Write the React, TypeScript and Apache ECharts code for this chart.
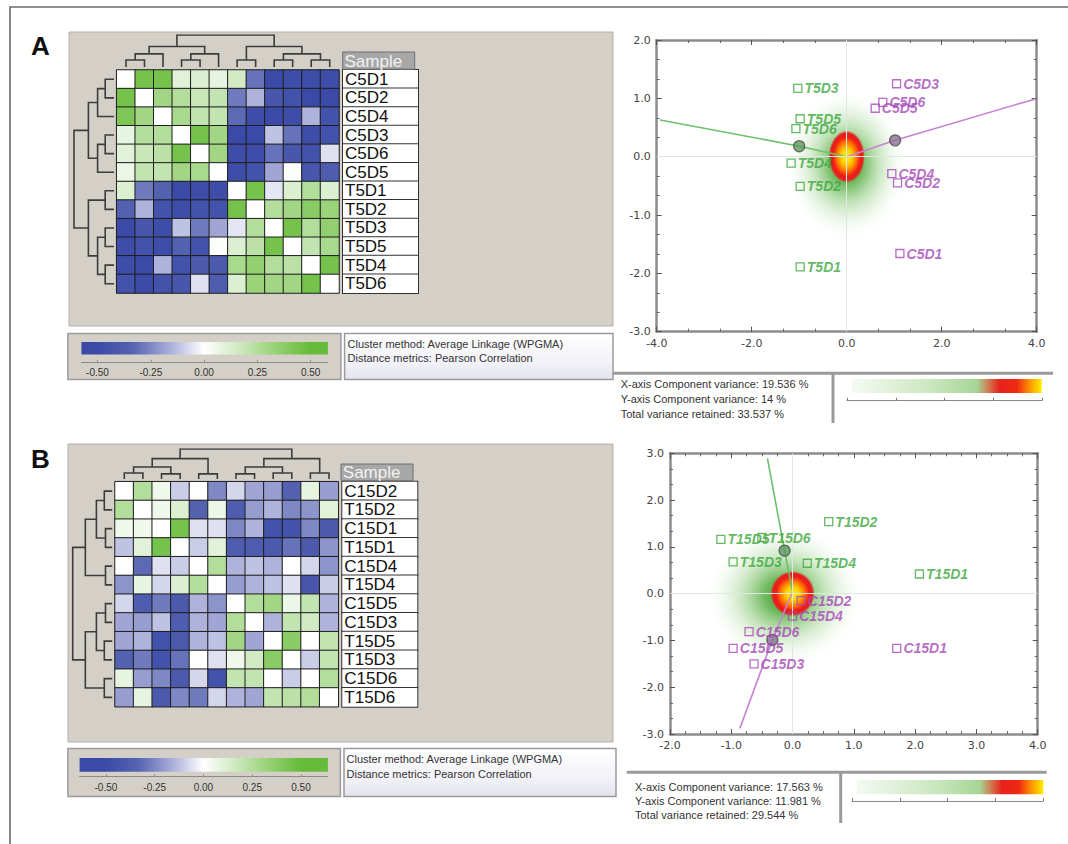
import React, { useEffect, useRef } from 'react';
import * as echarts from 'echarts';

const FONT = '"Liberation Sans", Arial, Helvetica, sans-serif';
const NUMFONT = '"DejaVu Sans", Verdana, sans-serif';

// ---------------- Heatmap data ----------------
const samplesA = ['C5D1', 'C5D2', 'C5D4', 'C5D3', 'C5D6', 'C5D5', 'T5D1', 'T5D2', 'T5D3', 'T5D5', 'T5D4', 'T5D6'];
const corrA = [
  [0, 0.45, 0.45, 0.1, 0.12, 0.08, 0.15, -0.3, -0.5, -0.48, -0.48, -0.48],
  [0.45, 0, 0.3, 0.25, 0.18, 0.2, -0.28, -0.15, -0.42, -0.45, -0.5, -0.5],
  [0.42, 0.3, 0, 0.28, 0.2, 0.2, -0.32, -0.48, -0.5, -0.48, -0.15, -0.45],
  [0.08, 0.25, 0.25, 0, 0.45, 0.3, -0.5, -0.5, -0.12, -0.3, -0.48, -0.45],
  [0.1, 0.18, 0.22, 0.45, 0, 0.3, -0.48, -0.48, -0.3, -0.42, -0.45, -0.06],
  [0.06, 0.2, 0.2, 0.3, 0.28, 0, -0.48, -0.45, -0.18, 0.01, -0.42, -0.38],
  [0.12, -0.28, -0.35, -0.5, -0.48, -0.48, 0, 0.45, -0.05, 0.12, 0.25, 0.12],
  [-0.35, -0.15, -0.45, -0.48, -0.45, -0.45, 0.45, 0, 0.25, 0.3, 0.38, 0.32],
  [-0.5, -0.42, -0.48, -0.12, -0.28, -0.18, -0.05, 0.25, 0, 0.45, 0.25, 0.35],
  [-0.48, -0.45, -0.48, -0.35, -0.45, 0.01, 0.12, 0.22, 0.45, 0, 0.2, 0.28],
  [-0.48, -0.5, -0.15, -0.45, -0.4, -0.4, 0.28, 0.35, 0.25, 0.22, 0, 0.45],
  [-0.45, -0.5, -0.45, -0.42, -0.06, -0.38, 0.12, 0.32, 0.3, 0.3, 0.45, 0],
];
const samplesB = ['C15D2', 'T15D2', 'C15D1', 'T15D1', 'C15D4', 'T15D4', 'C15D5', 'C15D3', 'T15D5', 'T15D3', 'C15D6', 'T15D6'];
const corrB = [
  [0, 0.25, 0.05, -0.1, 0, -0.25, -0.08, -0.18, -0.2, -0.35, 0.08, -0.2],
  [0.25, 0, 0.05, 0.12, -0.35, 0.06, -0.38, -0.2, -0.15, -0.25, -0.22, 0.1],
  [0.05, 0.05, 0, 0.45, -0.06, -0.06, -0.25, -0.15, -0.45, -0.45, -0.25, -0.4],
  [-0.12, 0.1, 0.45, 0, -0.1, 0.1, -0.38, -0.38, -0.4, -0.3, -0.4, -0.22],
  [0, -0.32, -0.06, -0.1, 0, 0.25, -0.15, -0.12, -0.15, 0, -0.08, -0.22],
  [-0.22, 0.08, -0.08, 0.12, 0.25, 0, -0.2, -0.15, -0.12, -0.06, -0.42, -0.1],
  [-0.08, -0.38, -0.28, -0.4, -0.15, -0.22, 0, 0.25, 0.3, 0.06, 0.2, -0.15],
  [-0.18, -0.2, -0.12, -0.38, -0.15, -0.18, 0.25, 0, -0.15, 0.2, 0.15, -0.15],
  [-0.18, -0.15, -0.45, -0.4, -0.15, -0.12, 0.3, -0.18, 0, 0.38, 0, 0.2],
  [-0.35, -0.28, -0.45, -0.3, 0, -0.06, 0.05, 0.15, 0.38, 0, -0.1, 0.2],
  [0.08, -0.2, -0.25, -0.4, -0.08, -0.45, 0.2, 0.2, 0, -0.1, 0, 0.25],
  [-0.2, 0.08, -0.4, -0.25, -0.28, -0.08, -0.15, -0.18, 0.2, 0.22, 0.25, 0],
];

// dendrogram merges: [nodeA, nodeB, height]; leaves 0..11, new nodes 12..
const treeA = [[0, 1, 0.22], [12, 2, 0.41], [3, 4, 0.22], [14, 5, 0.41], [13, 15, 0.64], [6, 7, 0.22], [8, 9, 0.22], [10, 11, 0.22], [18, 19, 0.41], [17, 20, 0.64], [16, 21, 1]];
const treeB = [[0, 1, 0.2], [2, 3, 0.17], [12, 13, 0.4], [4, 5, 0.17], [14, 15, 0.68], [6, 7, 0.17], [8, 9, 0.2], [17, 18, 0.4], [10, 11, 0.2], [19, 20, 0.68], [16, 21, 1]];

const corrTicks = [-0.5, -0.25, 0, 0.25, 0.5];
const heatColorValues = [-0.5, -1 / 3, -1 / 6, 0, 1 / 6, 1 / 3, 0.5];
const heatColors = ['#3b4aa6', '#5664b2', '#a6abd8', '#ffffff', '#cde9bf', '#97d175', '#66bb3a'];

// ---------------- PCA data ----------------
const pcaA_T: [string, number, number][] = [['T5D3', -1.03, 1.17], ['T5D5', -0.98, 0.65], ['T5D6', -1.07, 0.48], ['T5D4', -1.17, -0.11], ['T5D2', -0.98, -0.51], ['T5D1', -0.98, -1.89]];
const pcaA_C: [string, number, number][] = [['C5D3', 1.05, 1.25], ['C5D6', 0.76, 0.93], ['C5D5', 0.6, 0.83], ['C5D4', 0.95, -0.29], ['C5D2', 1.07, -0.45], ['C5D1', 1.12, -1.66]];
const loadA_T = [[-3.93, 0.63], [-1.0, 0.18], [0, 0]];
const loadA_C = [[0, 0], [1.02, 0.28], [3.97, 0.99]];
const centroidA_T = [-1.0, 0.18];
const centroidA_C = [1.02, 0.28];
const densityA = [[0, 0]];

const pcaB_T: [string, number, number][] = [['T15D2', 0.59, 1.54], ['T15D5', -1.17, 1.16], ['T15D6', -0.5, 1.2], ['T15D3', -0.97, 0.68], ['T15D4', 0.24, 0.65], ['T15D1', 2.07, 0.42]];
const pcaB_C: [string, number, number][] = [['C15D2', 0.14, -0.15], ['C15D4', 0.0, -0.48], ['C15D6', -0.71, -0.81], ['C15D5', -0.97, -1.17], ['C15D3', -0.63, -1.5], ['C15D1', 1.7, -1.17]];
const loadB_T = [[-0.41, 2.89], [-0.13, 0.92], [0, 0.04]];
const loadB_C = [[0, 0.04], [-0.33, -0.99], [-0.86, -2.88]];
const centroidB_T = [-0.13, 0.92];
const centroidB_C = [-0.33, -0.99];
const densityB = [[0, 0]];

const varianceA = [19.536, 14, 33.537];
const varianceB = [17.563, 11.981, 29.544];

const GREEN = '#3da63d';
const PURPLE = '#a548b8';

function dendroSegments(merges: number[][], n: number, vertical: boolean) {
  const pos: number[] = [];
  const h: number[] = [];
  for (let i = 0; i < n; i++) { pos.push(i + 0.5); h.push(0); }
  const out: any[] = [];
  merges.forEach(([a, b, hh]) => {
    const pts = [[pos[a], h[a]], [pos[a], hh], [pos[b], hh], [pos[b], h[b]]];
    out.push({ coords: vertical ? pts : pts.map(([p, q]) => [q, p]) });
    pos.push((pos[a] + pos[b]) / 2);
    h.push(hh);
  });
  return out;
}

function heatData(m: number[][]) {
  const d: number[][] = [];
  m.forEach((row, r) => row.forEach((v, c) => d.push([c, r, v])));
  return d;
}

function barGradient(min: number, max: number) {
  const stops = heatColorValues.map((v, i) => ({ offset: (v - min) / (max - min), color: heatColors[i] }));
  return new echarts.graphic.LinearGradient(0, 0, 1, 0, [
    { offset: 0, color: heatColors[0] }, ...stops, { offset: 1, color: heatColors[heatColors.length - 1] },
  ]);
}

function densityGradient() {
  return new echarts.graphic.LinearGradient(0, 0, 1, 0, [
    { offset: 0, color: '#f4faf2' },
    { offset: 0.4, color: '#cde8c2' },
    { offset: 0.66, color: '#a6d596' },
    { offset: 0.72, color: '#d07a50' },
    { offset: 0.78, color: '#e8201c' },
    { offset: 0.87, color: '#ee2a12' },
    { offset: 0.94, color: '#ff9a00' },
    { offset: 1, color: '#ffee00' },
  ]);
}

function blobRender(hx: number, hy: number, hdx: number, hdy: number, rx: number, ry: number) {
  return (params: any, api: any) => {
    const c = api.coord([api.value(0), api.value(1)]);
    return {
      type: 'group',
      children: [
        {
          type: 'circle', x: c[0] + hdx, y: c[1] + hdy, scaleY: hy / hx,
          shape: { cx: 0, cy: 0, r: hx },
          style: {
            fill: new echarts.graphic.RadialGradient(0.5, 0.5, 0.5, [
              { offset: 0, color: 'rgba(55,155,35,0.95)' },
              { offset: 0.25, color: 'rgba(75,168,55,0.8)' },
              { offset: 0.5, color: 'rgba(120,192,100,0.45)' },
              { offset: 0.75, color: 'rgba(170,215,155,0.18)' },
              { offset: 1, color: 'rgba(255,255,255,0)' },
            ]),
          },
        },
        {
          type: 'circle', x: c[0], y: c[1], scaleY: ry / rx,
          shape: { cx: 0, cy: 0, r: rx },
          style: {
            fill: new echarts.graphic.RadialGradient(0.5, 0.5, 0.5, [
              { offset: 0, color: '#fff41e' },
              { offset: 0.3, color: '#ffd000' },
              { offset: 0.58, color: '#ff6a00' },
              { offset: 0.76, color: '#ee1c1c' },
              { offset: 0.9, color: '#e62020' },
              { offset: 1, color: 'rgba(225,50,30,0.15)' },
            ]),
          },
        },
      ],
    };
  };
}

const scatterAxis = (gridIndex: number, min: number, max: number, interval: number, split: number, position: string, showLabel: boolean) => ({
  gridIndex, type: 'value', min, max, interval, position,
  axisLine: { show: true, onZero: false, lineStyle: { color: '#8c8c8c', width: 2.5 } },
  axisTick: { show: true, inside: true, length: 5, lineStyle: { color: '#555', width: 1 } },
  minorTick: { show: true, splitNumber: split, length: 3, lineStyle: { color: '#666', width: 1 } },
  axisLabel: { show: showLabel, fontSize: 11, color: '#444', fontFamily: NUMFONT, margin: 6, formatter: (v: number) => v.toFixed(1) },
  splitLine: { show: false },
  minorSplitLine: { show: false },
});

const hiddenValue = (gridIndex: number, min: number, max: number, inverse = false) => ({
  gridIndex, type: 'value', min, max, inverse, show: false, splitLine: { show: false },
});

const heatLabelAxis = (gridIndex: number, data: string[]) => ({
  gridIndex, type: 'category', data, inverse: true, position: 'right',
  axisLine: { show: false }, axisTick: { show: false }, splitLine: { show: false },
  axisLabel: {
    interval: 0, margin: 4, align: 'left', fontSize: 17, color: '#111', fontFamily: FONT,
    backgroundColor: '#fff', borderColor: '#333', borderWidth: 1,
    width: 73, height: 17.6, lineHeight: 18, padding: [1, 0, 0, 2], overflow: 'truncate',
  },
});

const smallAxis = (gridIndex: number, min: number, max: number, labels: boolean) => ({
  gridIndex, type: 'value', min, max,
  axisLine: { show: true, onZero: false, lineStyle: { color: '#8a8a8a', width: 1 } },
  axisTick: labels
    ? { show: true, inside: true, length: 2, customValues: corrTicks, lineStyle: { color: '#8a8a8a' } }
    : { show: true, inside: true, length: 3, interval: 0, lineStyle: { color: '#777' } },
  axisLabel: labels
    ? { show: true, customValues: corrTicks, formatter: (v: number) => v.toFixed(2), fontSize: 10, color: '#333', fontFamily: FONT, margin: 6 }
    : { show: false },
  interval: labels ? undefined : 1,
  splitLine: { show: false },
});

const ptsSeries = (data: [string, number, number][], color: string, xi: number) => ({
  type: 'scatter', xAxisIndex: xi, yAxisIndex: xi, z: 6,
  symbol: 'rect', symbolSize: 8,
  itemStyle: { color: 'rgba(255,255,255,0)', borderColor: color, borderWidth: 1.3 },
  label: { show: true, position: 'right', distance: 2, formatter: '{b}', color, fontSize: 14, fontWeight: 'bold', fontStyle: 'italic', fontFamily: FONT },
  data: data.map(([name, x, y]) => ({ name, value: [x, y] })),
});

const loadSeries = (data: number[][], color: string, xi: number) => ({
  type: 'line', xAxisIndex: xi, yAxisIndex: xi, z: 4, showSymbol: false, symbol: 'none',
  lineStyle: { color, width: 1.6 }, data,
});

const centroidSeries = (data: number[][], colors: string[], xi: number) => ({
  type: 'scatter', xAxisIndex: xi, yAxisIndex: xi, z: 5, symbol: 'circle', symbolSize: 11,
  data: data.map((v, i) => ({ value: v, itemStyle: { color: colors[i], borderColor: '#505050', borderWidth: 1.3 } })),
});

const zeroLines = (xi: number) => ({
  type: 'line', xAxisIndex: xi, yAxisIndex: xi, z: 1, data: [], silent: true,
  markLine: {
    silent: true, symbol: ['none', 'none'], label: { show: false },
    lineStyle: { color: '#dfe8df', type: 'solid', width: 1 },
    data: [{ xAxis: 0 }, { yAxis: 0 }],
  },
});

const txt = (text: string, x: number, y: number, size: number, extra: any = {}, z = 5) => ({
  type: 'text', x, y, silent: true, z,
  style: { text, fontSize: size, fontFamily: FONT, fill: '#333', verticalAlign: 'middle', align: 'left', ...extra },
});

const rect = (x: number, y: number, w: number, h: number, style: any, z = 0) => ({
  type: 'rect', shape: { x, y, width: w, height: h }, style, silent: true, z,
});

const line = (x1: number, y1: number, x2: number, y2: number, stroke: string, lineWidth: number) => ({
  type: 'line', shape: { x1, y1, x2, y2 }, style: { stroke, lineWidth }, silent: true, z: 2,
});

const lavender = () => new echarts.graphic.LinearGradient(0, 0, 0, 1, [
  { offset: 0, color: '#ffffff' }, { offset: 0.6, color: '#f2f2f8' }, { offset: 1, color: '#e4e4f0' },
]);

export default function App() {
  const ref = useRef<HTMLDivElement>(null);
  useEffect(() => {
    if (!ref.current) return;
    const chart = echarts.init(ref.current, null, { renderer: 'svg' });
    const cbA = [-0.5755, 0.5807];
    const cbB = [-0.635, 0.638];

    const grids = [
      { left: 116.7, top: 70, width: 222.3, height: 223 },     // 0 heat A
      { left: 115, top: 481.7, width: 223.3, height: 225 },    // 1 heat B
      { left: 116.7, top: 35, width: 222.3, height: 32 },      // 2 dendro A top
      { left: 74, top: 70, width: 40, height: 223 },           // 3 dendro A left
      { left: 115, top: 449, width: 223.3, height: 30 },       // 4 dendro B top
      { left: 72.7, top: 481.7, width: 39.5, height: 225 },    // 5 dendro B left
      { left: 656.7, top: 40, width: 380, height: 291.7 },     // 6 scatter A
      { left: 670, top: 453.3, width: 367.7, height: 280.7 },  // 7 scatter B
      { left: 81.4, top: 342, width: 246.5, height: 19.8 },    // 8 colorbar A
      { left: 79.6, top: 757.9, width: 248.3, height: 18.5 },  // 9 colorbar B
      { left: 847, top: 379, width: 195, height: 21.7 },       // 10 density A
      { left: 852, top: 780, width: 191, height: 21 },         // 11 density B
    ].map((g) => ({ ...g, containLabel: false, outerBoundsMode: 'none' }));

    const option: any = {
      animation: false,
      backgroundColor: '#ffffff',
      grid: grids,
      visualMap: [{
        type: 'continuous', show: false, min: -0.5, max: 0.5, dimension: 2, seriesIndex: [0, 1],
        inRange: { color: heatColors },
      }],
      xAxis: [
        { gridIndex: 0, type: 'category', data: samplesA, show: false },
        { gridIndex: 1, type: 'category', data: samplesB, show: false },
        hiddenValue(2, 0, 12),
        hiddenValue(3, 0, 1, true),
        hiddenValue(4, 0, 12),
        hiddenValue(5, 0, 1, true),
        scatterAxis(6, -4, 4, 2, 3, 'bottom', true),
        scatterAxis(6, -4, 4, 2, 3, 'top', false),
        scatterAxis(7, -2, 4, 1, 4, 'bottom', true),
        scatterAxis(7, -2, 4, 1, 4, 'top', false),
        smallAxis(8, cbA[0], cbA[1], true),
        smallAxis(9, cbB[0], cbB[1], true),
        smallAxis(10, 0, 4, false),
        smallAxis(11, 0, 4, false),
      ],
      yAxis: [
        heatLabelAxis(0, samplesA),
        heatLabelAxis(1, samplesB),
        hiddenValue(2, 0, 1),
        hiddenValue(3, 0, 12, true),
        hiddenValue(4, 0, 1),
        hiddenValue(5, 0, 12, true),
        scatterAxis(6, -3, 2, 1, 3, 'left', true),
        scatterAxis(6, -3, 2, 1, 3, 'right', false),
        scatterAxis(7, -3, 3, 1, 3, 'left', true),
        scatterAxis(7, -3, 3, 1, 3, 'right', false),
        hiddenValue(8, 0, 1),
        hiddenValue(9, 0, 1),
        hiddenValue(10, 0, 1),
        hiddenValue(11, 0, 1),
      ],
      series: [
        {
          type: 'heatmap', xAxisIndex: 0, yAxisIndex: 0, data: heatData(corrA),
          itemStyle: { borderColor: '#1e1e1e', borderWidth: 1 },
        },
        {
          type: 'heatmap', xAxisIndex: 1, yAxisIndex: 1, data: heatData(corrB),
          itemStyle: { borderColor: '#1e1e1e', borderWidth: 1 },
        },
        ...[[2, treeA, true], [3, treeA, false], [4, treeB, true], [5, treeB, false]].map(([gi, tree, vert]: any) => ({
          type: 'lines', coordinateSystem: 'cartesian2d', xAxisIndex: gi, yAxisIndex: gi,
          polyline: true, silent: true, data: dendroSegments(tree, 12, vert),
          lineStyle: { color: '#3c3c3c', width: 1.6, opacity: 1 },
        })),
        // scatter A
        zeroLines(6),
        { type: 'custom', xAxisIndex: 6, yAxisIndex: 6, z: 2, silent: true, data: densityA, renderItem: blobRender(62, 76, 0, 8, 18, 26) },
        loadSeries(loadA_T, '#6cbf6c', 6),
        loadSeries(loadA_C, '#c683d2', 6),
        centroidSeries([centroidA_T, centroidA_C], ['#5c9a5c', '#8c7096'], 6),
        ptsSeries(pcaA_T, GREEN, 6),
        ptsSeries(pcaA_C, PURPLE, 6),
        // scatter B
        zeroLines(8),
        { type: 'custom', xAxisIndex: 8, yAxisIndex: 8, z: 2, silent: true, data: densityB, renderItem: blobRender(80, 72, -8, 2, 22, 22.5) },
        loadSeries(loadB_T, '#6cbf6c', 8),
        loadSeries(loadB_C, '#c683d2', 8),
        centroidSeries([centroidB_T, centroidB_C], ['#5c9a5c', '#8c7096'], 8),
        ptsSeries(pcaB_T, GREEN, 8),
        ptsSeries(pcaB_C, PURPLE, 8),
      ],
      graphic: [
        // outer frame
        rect(10, 7, 1100, 900, { fill: 'none', stroke: '#6a6a6a', lineWidth: 1.6 }),
        txt('A', 31, 46, 26, { fontWeight: 'bold', fill: '#111' }),
        txt('B', 31, 459, 26, { fontWeight: 'bold', fill: '#111' }),
        // heatmap panels
        rect(69, 32, 544, 294, { fill: '#d4d0c8', stroke: '#b4b0a8', lineWidth: 1 }),
        rect(68, 444, 545, 298, { fill: '#d4d0c8', stroke: '#b4b0a8', lineWidth: 1 }),
        rect(342.7, 52, 72, 17.2, { fill: '#a7a7a7', stroke: '#6f6f6f', lineWidth: 1 }, 1),
        txt('Sample', 344.5, 61, 17, { fill: '#f2f2f2' }),
        rect(341, 464, 72, 16.7, { fill: '#a7a7a7', stroke: '#6f6f6f', lineWidth: 1 }, 1),
        txt('Sample', 342.8, 472.6, 17, { fill: '#f2f2f2' }),
        // colour-scale boxes
        rect(67.9, 333.6, 273, 46, { fill: '#d4d0c8', stroke: '#9a9a9a', lineWidth: 1.5 }),
        rect(81.4, 342, 246.5, 12.6, { fill: barGradient(cbA[0], cbA[1]) }, 1),
        line(204, 342, 204, 354.6, '#ffffff', 1.5),
        rect(344.6, 333.6, 268.4, 46, { fill: lavender(), stroke: '#9a9a9a', lineWidth: 1.5 }),
        txt('Cluster method: Average Linkage (WPGMA)', 347.5, 343.5, 11),
        txt('Distance metrics: Pearson Correlation', 347.5, 357.8, 11),
        rect(67.9, 748.6, 272.5, 48, { fill: '#d4d0c8', stroke: '#9a9a9a', lineWidth: 1.5 }),
        rect(79.6, 757.9, 248.3, 13.9, { fill: barGradient(cbB[0], cbB[1]) }, 1),
        line(204, 757.9, 204, 771.8, '#ffffff', 1.5),
        rect(344, 748.6, 272, 48, { fill: lavender(), stroke: '#9a9a9a', lineWidth: 1.5 }),
        txt('Cluster method: Average Linkage (WPGMA)', 346.5, 759.3, 11),
        txt('Distance metrics: Pearson Correlation', 346.5, 774, 11),
        // variance panels
        line(613, 373.3, 1053, 373.3, '#9a9a9a', 3),
        line(833, 373.3, 833, 423, '#9a9a9a', 3),
        txt(`X-axis Component variance: ${varianceA[0]} %`, 620.7, 384, 11),
        txt(`Y-axis Component variance: ${varianceA[1]} %`, 620.7, 399, 11),
        txt(`Total variance retained: ${varianceA[2]} %`, 620.7, 414, 11),
        rect(851.7, 379, 190, 14, { fill: densityGradient() }, 1),
        line(626.7, 772.3, 1046.7, 772.3, '#9a9a9a', 3),
        line(840.7, 772.3, 840.7, 823, '#9a9a9a', 3),
        txt(`X-axis Component variance: ${varianceB[0]} %`, 635, 787, 11),
        txt(`Y-axis Component variance: ${varianceB[1]} %`, 635, 801, 11),
        txt(`Total variance retained: ${varianceB[2]} %`, 635, 815, 11),
        rect(856.7, 780, 186.6, 14.3, { fill: densityGradient() }, 1),
      ],
    };
    chart.setOption(option);
    return () => chart.dispose();
  }, []);

  return (
    <div
      ref={ref}
      style={{ position: 'fixed', left: 0, top: 0, width: 1068, height: 844, background: '#fff' }}
    />
  );
}
